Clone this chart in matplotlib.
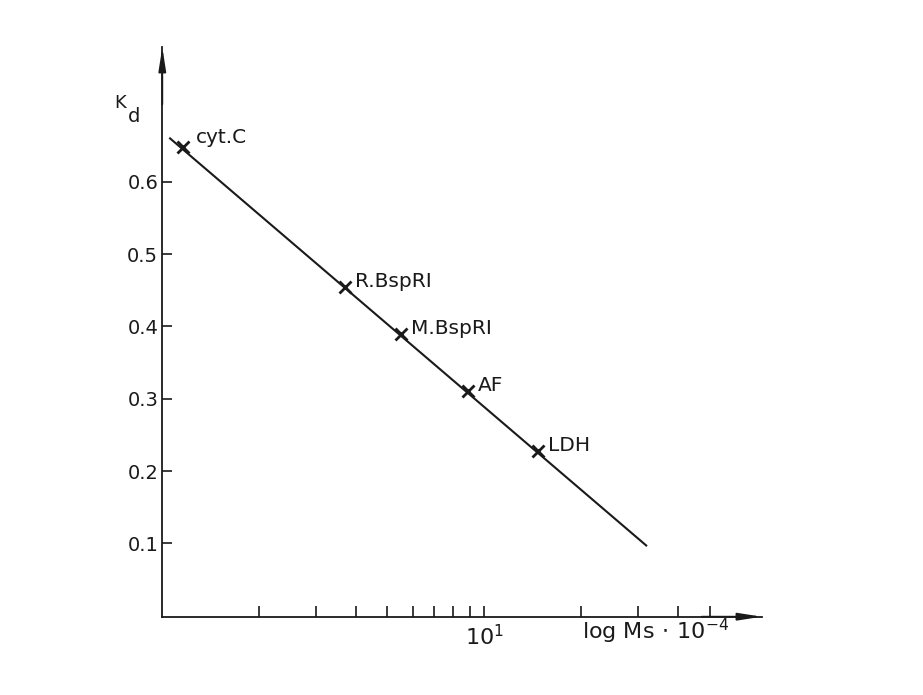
import numpy as np
import matplotlib
matplotlib.use("Agg")
import matplotlib.pyplot as plt
from matplotlib.ticker import FixedLocator, FixedFormatter, NullFormatter

# values (Ms in units of 10^4)
proteins = ["cyt.C", "R.BspRI", "M.BspRI", "AF", "LDH"]
ms = [1.16, 3.69, 5.51, 8.92, 14.7]
kd = [0.648, 0.455, 0.390, 0.311, 0.227]

# fitted calibration line
line_ms = [1.057, 31.8]
line_kd = [0.660, 0.097]

y_ticks = [0.1, 0.2, 0.3, 0.4, 0.5, 0.6]
x_major = [10]
x_major_labels = ["$10^{1}$"]
x_minor = [2, 3, 4, 5, 6, 7, 8, 9, 20, 30, 40, 50]

W, H = 923, 695
plt.rcParams["font.family"] = "DejaVu Sans"


def px(x, y):
    # pixel position (from top-left) -> figure fraction
    return x / W, 1 - y / H


def main():
    fig = plt.figure(figsize=(W / 100, H / 100), dpi=100)
    x0, y0 = px(162.3, 616.7)
    x1, y1 = px(761.7, 47.3)
    ax = fig.add_axes([x0, y0, x1 - x0, y1 - y0])

    ax.set_xscale("log")
    ax.set_xlim(1, 10 ** 1.861)
    ax.set_ylim(-0.0015, 0.786)

    for s in ["top", "right"]:
        ax.spines[s].set_visible(False)
    for s in ["left", "bottom"]:
        ax.spines[s].set_linewidth(1.3)
        ax.spines[s].set_color("#1a1a1a")

    # arrow heads on the axes
    arrow = dict(arrowstyle="-|>,head_length=1.4,head_width=0.22",
                 color="#1a1a1a", lw=1.3, shrinkA=0, shrinkB=0, mutation_scale=10)
    ax.annotate("", xy=(0, 1), xytext=(0, 0.9), xycoords="axes fraction",
                arrowprops=arrow, annotation_clip=False)
    ax.annotate("", xy=(1, 0), xytext=(0.9, 0), xycoords="axes fraction",
                arrowprops=arrow, annotation_clip=False)

    ax.set_yticks(y_ticks)
    ax.set_yticklabels([f"{v:.1f}" for v in y_ticks])
    ax.tick_params(axis="y", direction="in", length=7, width=1.2, pad=3,
                   labelsize=14, colors="#1a1a1a")

    ax.xaxis.set_major_locator(FixedLocator(x_major))
    ax.xaxis.set_major_formatter(FixedFormatter(x_major_labels))
    ax.xaxis.set_minor_locator(FixedLocator(x_minor))
    ax.xaxis.set_minor_formatter(NullFormatter())
    ax.tick_params(axis="x", which="both", direction="in", length=8, width=1.2,
                   pad=5, labelsize=16, colors="#1a1a1a")

    ax.plot(line_ms, line_kd, color="#1a1a1a", lw=1.5)
    ax.plot(ms, kd, linestyle="none", marker="x", markersize=9,
            markeredgewidth=2, color="#1a1a1a")

    for i, name in enumerate(proteins):
        dx, dy = (9.5, 3) if i == 0 else (7, 0)
        ax.annotate(name, (ms[i], kd[i]), xytext=(dx, dy),
                    textcoords="offset points", fontsize=14.5,
                    va="baseline", ha="left", color="#1a1a1a")

    # axis titles
    ax.text(34, -0.0015, r"log Ms$\,\cdot\,10^{-4}$", fontsize=16,
            ha="center", va="top", color="#1a1a1a",
            transform=ax.get_xaxis_transform() if False else ax.transData)
    fig.text(*px(114, 108), "K", fontsize=13, color="#1a1a1a")
    fig.text(*px(128, 122), "d", fontsize=14, color="#1a1a1a")

    fig.savefig("out.png", dpi=100, facecolor="white")


if __name__ == "__main__":
    main()
